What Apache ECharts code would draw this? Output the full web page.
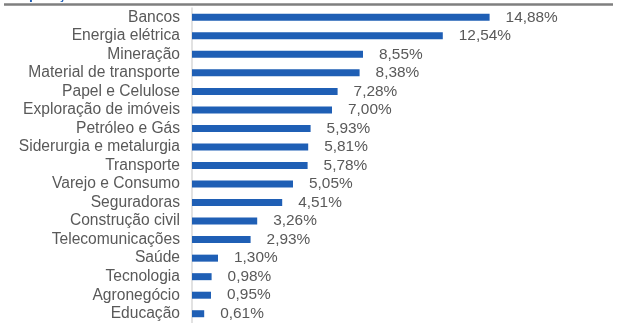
<!DOCTYPE html>
<html>
<head>
<meta charset="utf-8">
<script src="https://cdn.jsdelivr.net/npm/echarts@6/dist/echarts.min.js"></script>
<style>
  html, body { margin: 0; padding: 0; background: #ffffff; }
  #chart { width: 617px; height: 323px; }
</style>
</head>
<body>
<div id="chart"></div>
<script>
// Sector weights (% of the portfolio), top to bottom
const sectors = [
  'Bancos', 'Energia elétrica', 'Mineração', 'Material de transporte',
  'Papel e Celulose', 'Exploração de imóveis', 'Petróleo e Gás',
  'Siderurgia e metalurgia', 'Transporte', 'Varejo e Consumo',
  'Seguradoras', 'Construção civil', 'Telecomunicações', 'Saúde',
  'Tecnologia', 'Agronegócio', 'Educação'
];
const weights = [
  14.88, 12.54, 8.55, 8.38, 7.28, 7.00, 5.93, 5.81, 5.78, 5.05,
  4.51, 3.26, 2.93, 1.30, 0.98, 0.95, 0.61
];
const titleText = 'Composição setorial';

const FONT = '"Liberation Sans", Arial, sans-serif';
const chart = echarts.init(document.getElementById('chart'), null, { renderer: 'canvas' });

chart.setOption({
  backgroundColor: '#ffffff',
  animation: false,
  graphic: [
    {
      // section heading, mostly above the top edge of the page
      type: 'text',
      x: -2,
      y: 2,
      style: {
        text: titleText,
        fill: '#1F5FB5',
        font: 'bold 14px ' + FONT,
        verticalAlign: 'bottom'
      }
    },
    {
      type: 'line',
      shape: { x1: 4, y1: 4.5, x2: 613, y2: 4.5 },
      style: { stroke: '#7f7f7f', lineWidth: 2.5 }
    }
  ],
  grid: { left: 192, top: 8, width: 400, height: 316, containLabel: false },
  xAxis: {
    type: 'value',
    min: 0,
    max: 20,
    show: false
  },
  yAxis: {
    type: 'category',
    inverse: true,
    data: sectors,
    axisLine: { show: true, lineStyle: { color: '#d9d9d9', width: 1.5 } },
    axisTick: { show: false },
    axisLabel: {
      interval: 0,
      color: '#595959',
      fontFamily: FONT,
      fontSize: 15.6,
      margin: 12
    }
  },
  series: [{
    type: 'bar',
    data: weights,
    barWidth: 7,
    itemStyle: { color: '#1F5FB5' },
    label: {
      show: true,
      position: 'right',
      distance: 16,
      color: '#595959',
      fontFamily: FONT,
      fontSize: 15.4,
      formatter: p => p.value.toFixed(2).replace('.', ',') + '%'
    }
  }]
});
</script>
</body>
</html>
